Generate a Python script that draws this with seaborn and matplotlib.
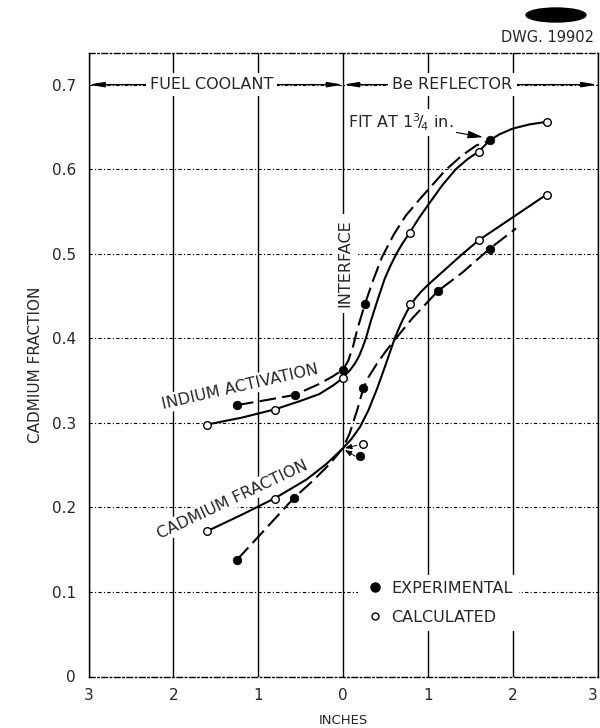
import matplotlib
matplotlib.use("Agg")
import matplotlib.pyplot as plt
from matplotlib.lines import Line2D
from matplotlib.patches import Ellipse
import seaborn as sns

# ---------------- data ----------------
# measured (experimental) points
ind_exp_x = [-1.25, -0.57, 0.0, 0.26, 1.73]
ind_exp_y = [0.321, 0.333, 0.362, 0.441, 0.634]
cad_exp_x = [-1.25, -0.58, 0.20, 0.24, 1.12, 1.73]
cad_exp_y = [0.138, 0.211, 0.261, 0.341, 0.456, 0.506]
# calculated points
ind_calc_x = [-1.6, -0.8, 0.0, 0.79, 1.6, 2.4]
ind_calc_y = [0.298, 0.315, 0.353, 0.524, 0.620, 0.656]
cad_calc_x = [-1.6, -0.8, 0.23, 0.79, 1.6, 2.4]
cad_calc_y = [0.172, 0.210, 0.275, 0.441, 0.516, 0.570]

# hand-drawn curves
ind_calc_curve_x = [-1.6, -1.2, -0.8, -0.5, -0.28, -0.12, -0.04, 0.0, 0.08, 0.14, 0.19,
                    0.23, 0.27, 0.33, 0.41, 0.49, 0.56, 0.63, 0.7, 0.78, 0.9, 1.02,
                    1.17, 1.33, 1.47, 1.6, 1.73, 1.84, 2.0, 2.2, 2.4]
ind_calc_curve_y = [0.298, 0.306, 0.316, 0.326, 0.334, 0.344, 0.350, 0.354, 0.362, 0.370, 0.379,
                    0.389, 0.400, 0.421, 0.446, 0.470, 0.486, 0.500, 0.512, 0.524, 0.543, 0.560,
                    0.581, 0.600, 0.612, 0.621, 0.634, 0.641, 0.648, 0.653, 0.656]
ind_exp_curve_x = [-1.25, -0.9, -0.57, -0.28, -0.12, 0.0, 0.06, 0.12, 0.17, 0.26, 0.36,
                   0.46, 0.6, 0.74, 0.9, 1.05, 1.21, 1.4, 1.57, 1.73]
ind_exp_curve_y = [0.321, 0.327, 0.333, 0.346, 0.355, 0.363, 0.373, 0.391, 0.411, 0.441, 0.470,
                   0.496, 0.523, 0.545, 0.564, 0.581, 0.599, 0.616, 0.628, 0.634]
cad_calc_curve_x = [-1.6, -1.2, -0.8, -0.43, -0.2, 0.0, 0.1, 0.2, 0.3, 0.4, 0.5,
                    0.61, 0.66, 0.7, 0.75, 0.8, 0.86, 0.92, 1.0, 1.2, 1.4, 1.6, 2.0, 2.4]
cad_calc_curve_y = [0.172, 0.191, 0.211, 0.233, 0.251, 0.270, 0.281, 0.295, 0.315, 0.340, 0.368,
                    0.400, 0.412, 0.421, 0.431, 0.440, 0.448, 0.455, 0.463, 0.481, 0.499, 0.516,
                    0.543, 0.570]
cad_exp_curve_x = [-1.25, -0.9, -0.58, -0.36, -0.16, 0.0, 0.08, 0.17, 0.24, 0.3, 0.4,
                   0.5, 0.6, 0.82, 1.12, 1.41, 1.73, 2.04]
cad_exp_curve_y = [0.138, 0.176, 0.211, 0.231, 0.251, 0.270, 0.288, 0.316, 0.341, 0.354, 0.370,
                   0.384, 0.397, 0.424, 0.456, 0.478, 0.506, 0.530]

x_ticks = [-3, -2, -1, 0, 1, 2, 3]
x_tick_labels = ["3", "2", "1", "0", "1", "2", "3"]
y_ticks = [0, 0.1, 0.2, 0.3, 0.4, 0.5, 0.6, 0.7]
y_tick_labels = ["0", "0.1", "0.2", "0.3", "0.4", "0.5", "0.6", "0.7"]

# ---------------- styling ----------------
sns.set_style("white")
plt.rcParams["font.family"] = ["DejaVu Sans"]
plt.rcParams["mathtext.fontset"] = "dejavusans"

FS = 11.5
fig = plt.figure(figsize=(6, 7.28), dpi=100)
W, H = 600, 728
left, right, top, bottom = 88.5, 597.5, 52.5, 676.5
ax = fig.add_axes([left / W, (H - bottom) / H, (right - left) / W, (bottom - top) / H])
ax.set_xlim(-3, 3)
ax.set_ylim(0, 0.738)

ax.set_axisbelow(True)
ax.grid(axis="x", ls="-", lw=1.0, color="black")
ax.grid(axis="y", ls=(0, (3, 2, 1, 2)), lw=0.8, color="black")
for s in ax.spines.values():
    s.set_color("black")
    s.set_linewidth(1.0)
ax.spines["top"].set_linestyle((0, (4, 2, 1, 2)))
ax.spines["bottom"].set_linestyle((0, (4, 2, 1, 2)))

ax.set_xticks(x_ticks)
ax.set_xticklabels(x_tick_labels, fontsize=11)
ax.get_xticklabels()[-1].set_horizontalalignment("right")
ax.set_yticks(y_ticks)
ax.set_yticklabels(y_tick_labels, fontsize=11)
ax.tick_params(axis="both", length=0)
ax.tick_params(axis="x", pad=8)
ax.tick_params(axis="y", pad=9)
ax.set_xlabel("INCHES", fontsize=9.5, labelpad=8)
ax.set_ylabel("CADMIUM FRACTION", fontsize=11, labelpad=6)

# ---------------- curves ----------------
dash = (0, (8, 3))
sns.lineplot(x=ind_calc_curve_x, y=ind_calc_curve_y, sort=False, estimator=None,
             color="black", lw=1.5, ax=ax, zorder=4)
sns.lineplot(x=cad_calc_curve_x, y=cad_calc_curve_y, sort=False, estimator=None,
             color="black", lw=1.5, ax=ax, zorder=4)
sns.lineplot(x=ind_exp_curve_x, y=ind_exp_curve_y, sort=False, estimator=None,
             color="black", lw=1.5, linestyle=dash, ax=ax, zorder=4)
sns.lineplot(x=cad_exp_curve_x, y=cad_exp_curve_y, sort=False, estimator=None,
             color="black", lw=1.5, linestyle=dash, ax=ax, zorder=4)

# ---------------- points ----------------
sns.scatterplot(x=ind_exp_x + cad_exp_x, y=ind_exp_y + cad_exp_y, color="black",
                edgecolor="black", s=38, linewidth=0.5, ax=ax, zorder=6)
sns.scatterplot(x=ind_calc_x + cad_calc_x, y=ind_calc_y + cad_calc_y, color="white",
                edgecolor="black", s=30, linewidth=1.0, ax=ax, zorder=6)

# little arrows at the interface
ax.annotate("", xy=(0.02, 0.270), xytext=(0.19, 0.274),
            arrowprops=dict(arrowstyle="-|>,head_length=0.4,head_width=0.15", ls=(0, (2, 1)),
                            lw=0.8, color="black", shrinkA=2, shrinkB=0), zorder=5)
ax.annotate("", xy=(0.02, 0.268), xytext=(0.17, 0.259),
            arrowprops=dict(arrowstyle="-|>,head_length=0.4,head_width=0.15", ls=(0, (2, 1)),
                            lw=0.8, color="black", shrinkA=2, shrinkB=0), zorder=5)

# ---------------- labels ----------------
box = dict(fc="white", ec="none", pad=1.5)
ax.text(-1.21, 0.343, "INDIUM ACTIVATION", rotation=12.8, rotation_mode="anchor",
        ha="center", va="center", fontsize=FS, bbox=box, zorder=3)
ax.text(-1.30, 0.2095, "CADMIUM FRACTION", rotation=25.3, rotation_mode="anchor",
        ha="center", va="center", fontsize=FS, bbox=box, zorder=3)
ax.text(0.02, 0.489, "INTERFACE", rotation=90, ha="center", va="center",
        fontsize=FS, bbox=dict(fc="white", ec="none", pad=4), zorder=3)

ax.annotate(r"FIT AT 1$^{3}\!/\!_{4}$ in.", xy=(1.70, 0.637), xytext=(0.68, 0.655),
            ha="center", va="center", fontsize=FS,
            bbox=dict(fc="white", ec="none", pad=2),
            arrowprops=dict(arrowstyle="-|>,head_length=0.8,head_width=0.2", lw=0.8,
                            color="black", shrinkA=0, shrinkB=3), zorder=3)

# region arrows at 0.7
arrow_kw = dict(arrowstyle="<|-|>,head_length=0.9,head_width=0.15", lw=1.0,
                color="black", shrinkA=0, shrinkB=0)
ax.annotate("", xy=(-3, 0.7), xytext=(0, 0.7), arrowprops=arrow_kw, zorder=3)
ax.annotate("", xy=(0, 0.7), xytext=(3, 0.7), arrowprops=arrow_kw, zorder=3)
ax.text(-1.55, 0.7, "FUEL COOLANT", ha="center", va="center", fontsize=FS,
        bbox=dict(fc="white", ec="none", pad=3), zorder=4)
ax.text(1.29, 0.7, "Be REFLECTOR", ha="center", va="center", fontsize=FS,
        bbox=dict(fc="white", ec="none", pad=3), zorder=4)

# legend
handles = [Line2D([], [], marker="o", color="black", ls="none", markersize=6.5,
                  label="EXPERIMENTAL"),
           Line2D([], [], marker="o", mfc="white", mec="black", mew=1.0, ls="none",
                  markersize=5, label="CALCULATED")]
leg = ax.legend(handles=handles, loc="upper left", bbox_to_anchor=(0.08, 0.130),
                bbox_transform=ax.transData, fontsize=FS, frameon=True, facecolor="white",
                edgecolor="none", framealpha=1, fancybox=False, borderpad=0.4,
                handlelength=1.4, handletextpad=0.3, labelspacing=0.85)
leg.set_zorder(5)

# drawing number
fig.text(594 / W, 1 - 38 / H, "DWG. 19902", ha="right", va="center", fontsize=10.5)
fig.patches.append(Ellipse((556 / W, 1 - 15 / H), 60 / W, 14 / H,
                           transform=fig.transFigure, color="black"))

fig.savefig("out.png", dpi=100)
